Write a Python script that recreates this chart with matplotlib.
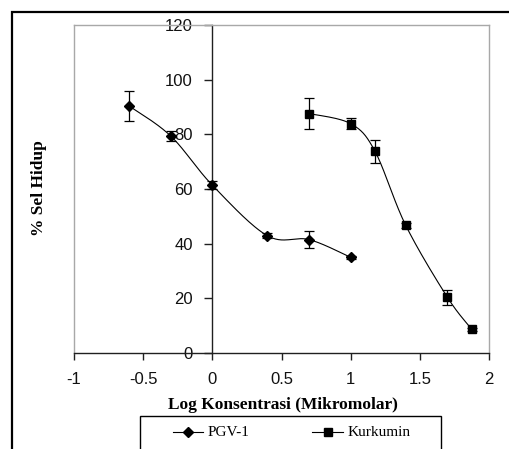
import numpy as np
import matplotlib
matplotlib.use("Agg")
import matplotlib.pyplot as plt
import matplotlib.patches as patches
from matplotlib.lines import Line2D

# data (log konsentrasi vs % sel hidup)
pgv_x = [-0.602, -0.301, 0.0, 0.398, 0.699, 1.0]
pgv_y = [90.4, 79.4, 61.4, 42.9, 41.5, 35.0]
pgv_err = [5.6, 1.7, 1.5, 1.0, 3.0, 0.5]

kur_x = [0.699, 1.0, 1.176, 1.398, 1.699, 1.875]
kur_y = [87.6, 83.9, 73.8, 46.7, 20.4, 8.7]
kur_err = [5.8, 2.0, 4.3, 1.0, 2.7, 0.5]

xticks = [-1, -0.5, 0, 0.5, 1, 1.5, 2]
xticklabels = ['-1', '-0.5', '0', '0.5', '1', '1.5', '2']
yticks = [0, 20, 40, 60, 80, 100, 120]

W, H = 510, 449
fig = plt.figure(figsize=(W / 100, H / 100), dpi=100, facecolor='w')

# plot area in pixels
L, R, T, B = 74, 489, 25, 353
ax = fig.add_axes([L / W, 1 - B / H, (R - L) / W, (B - T) / H])
ax.set_xlim(-1, 2)
ax.set_ylim(0, 120)


def smooth(xs, ys, n=30):
    # excel-like smoothing: bezier with control points from neighbours (display space)
    pts = ax.transData.transform(np.column_stack([xs, ys]))
    out = [pts[0]]
    for i in range(len(pts) - 1):
        p0 = pts[i - 1] if i > 0 else pts[i]
        p1 = pts[i]
        p2 = pts[i + 1]
        p3 = pts[i + 2] if i + 2 < len(pts) else pts[i + 1]
        c1 = p1 + (p2 - p0) / 6.0
        c2 = p2 - (p3 - p1) / 6.0
        t = np.linspace(0, 1, n)[1:, None]
        seg = ((1 - t) ** 3) * p1 + 3 * ((1 - t) ** 2) * t * c1 + 3 * (1 - t) * t ** 2 * c2 + t ** 3 * p2
        out.extend(seg)
    out = np.array(out)
    back = ax.transData.inverted().transform(out)
    return back[:, 0], back[:, 1]


sx, sy = smooth(pgv_x, pgv_y)
ax.plot(sx, sy, color='black', lw=0.8, zorder=3)
sx, sy = smooth(kur_x, kur_y)
ax.plot(sx, sy, color='black', lw=0.8, zorder=3)

ax.errorbar(pgv_x, pgv_y, yerr=pgv_err, fmt='D', color='black', ms=5,
            ecolor='black', elinewidth=0.9, capsize=3.5, capthick=0.9, zorder=4)
ax.errorbar(kur_x, kur_y, yerr=kur_err, fmt='s', color='black', ms=6,
            ecolor='black', elinewidth=0.9, capsize=3.5, capthick=0.9, zorder=4)

# axes styling
for s in ['top', 'right']:
    ax.spines[s].set_color('#a8a8a8')
    ax.spines[s].set_linewidth(1.0)
ax.spines['left'].set_position(('data', 0))
ax.spines['left'].set_color('#202020')
ax.spines['left'].set_linewidth(1.0)
ax.spines['bottom'].set_color('#202020')
ax.spines['bottom'].set_linewidth(1.0)
ax.add_line(Line2D([0, 0], [0, 1], transform=ax.transAxes, color='#a8a8a8', lw=1.0, clip_on=False))

ax.set_xticks(xticks)
ax.set_xticklabels(xticklabels)
ax.set_yticks(yticks)
ax.tick_params(axis='x', direction='out', length=5, width=1, pad=9, color='#202020',
               labelsize=12, labelcolor='#111111')
ax.tick_params(axis='y', direction='out', length=6, width=1, pad=8, color='#202020',
               labelsize=12, labelcolor='#111111')
for lab in ax.get_xticklabels() + ax.get_yticklabels():
    lab.set_family('Liberation Sans')

# axis titles
fig.text(283 / W, 1 - 405 / H, 'Log Konsentrasi (Mikromolar)', ha='center', va='center',
         family='Liberation Serif', weight='bold', fontsize=12.5)
fig.text(39 / W, 1 - 188 / H, '% Sel Hidup', ha='center', va='center', rotation=90,
         family='Liberation Serif', weight='bold', fontsize=12.5)

# legend box (runs off the bottom of the picture)
fig.add_artist(patches.Rectangle((140 / W, 1 - 470 / H), 301 / W, 54 / H,
                                 transform=fig.transFigure, fill=False, ec='black', lw=1.0))
ly = 1 - 432 / H
fig.add_artist(Line2D([173 / W, 203 / W], [ly, ly], color='black', lw=0.8,
                      marker=None, transform=fig.transFigure))
fig.add_artist(Line2D([188 / W], [ly], color='black', marker='D', ms=5, transform=fig.transFigure))
fig.text(208 / W, ly, 'PGV-1', ha='left', va='center', family='Liberation Serif', fontsize=11)
fig.add_artist(Line2D([312 / W, 343 / W], [ly, ly], color='black', lw=0.8, transform=fig.transFigure))
fig.add_artist(Line2D([328 / W], [ly], color='black', marker='s', ms=6, transform=fig.transFigure))
fig.text(348 / W, ly, 'Kurkumin', ha='left', va='center', family='Liberation Serif', fontsize=11)

# outer chart frame
fig.add_artist(patches.Rectangle((12 / W, -0.1), 1.2, 1 - 12 / H + 0.1,
                                 transform=fig.transFigure, fill=False, ec='black', lw=1.6))

fig.savefig('out.png', dpi=100)
